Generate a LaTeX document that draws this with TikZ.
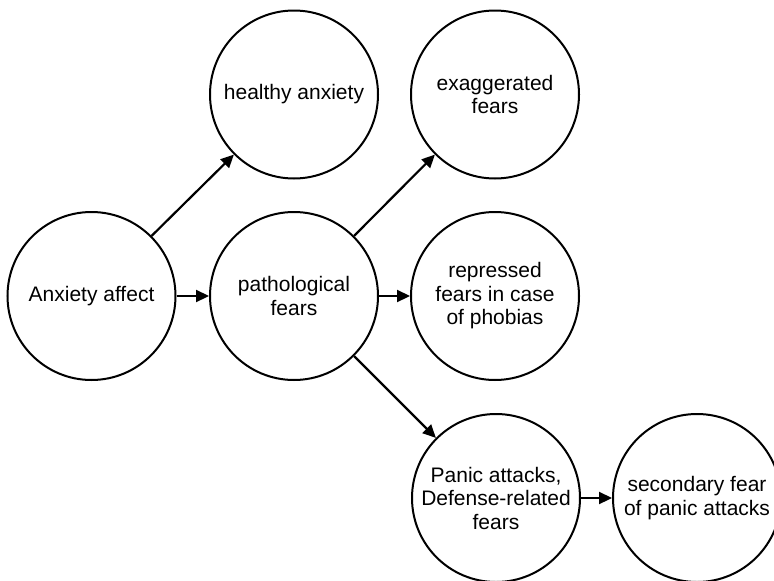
\documentclass[tikz,border=0pt]{standalone}
\usepackage{fontspec}
\setmainfont{Liberation Sans}
\usetikzlibrary{arrows.meta}

\tikzset{
  fearnode/.style={draw, circle, line width=2pt, minimum size=168pt, inner sep=0pt,
    align=center, font=\fontsize{21}{23.5}\selectfont},
  fearline/.style={line width=2.2pt, -{Triangle[length=13pt,width=12pt]}}
}

\begin{document}
\begin{tikzpicture}[x=1pt,y=-1pt]

    % Rahmen
    \useasboundingbox (0,0) rectangle (774,581);

    % Ausgangspunkt
    \node[fearnode] (affect) at (91.5,296) {Anxiety affect};

    % Obere Reihe
    \node[fearnode] (healthy) at (294,94.5) {healthy anxiety};
    \node[fearnode] (exagg) at (495,94.5) {exaggerated\\fears};

    % Mittlere Reihe
    \node[fearnode] (patho) at (294,296) {pathological\\fears};
    \node[fearnode] (repressed) at (495,296) {repressed\\fears in case\\of phobias};

    % Untere Reihe
    \node[fearnode] (panic) at (496,498) {Panic attacks,\\Defense-related\\fears};
    \node[fearnode] (secondary) at (697,498) {secondary fear\\of panic attacks};

    % Pfeile
    \draw[fearline] (affect) -- (patho);
    \draw[fearline] (affect.45) -- (healthy.225);
    \draw[fearline] (patho.45) -- (exagg.225);
    \draw[fearline] (patho) -- (repressed);
    \draw[fearline] (patho.-45) -- (panic.135);
    \draw[fearline] (panic) -- (secondary);

\end{tikzpicture}
\end{document}
